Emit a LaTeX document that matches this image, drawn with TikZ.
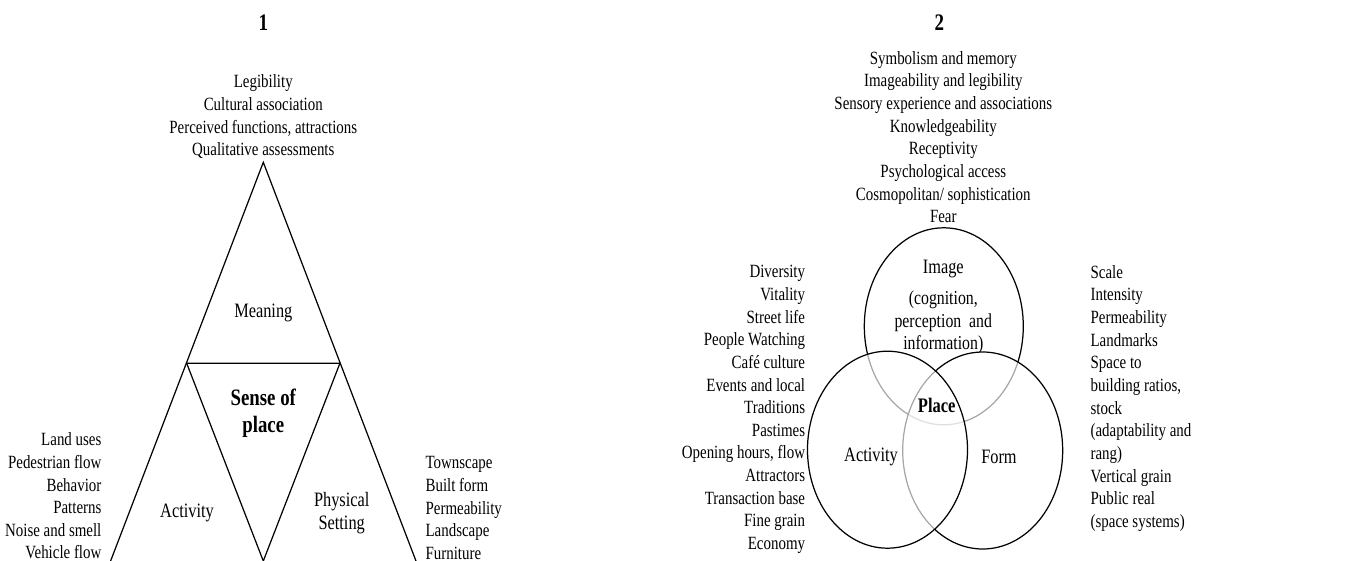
\documentclass[tikz,border=0pt]{standalone}
\usepackage{fontspec}
\setmainfont{Liberation Serif}
\usetikzlibrary{shapes}

\begin{document}
\begin{tikzpicture}[x=0.02cm, y=-0.02cm, line width=0.7pt,
		lst/.style={font=\fontsize{8.5}{10.32}\selectfont, inner sep=0pt, yscale=1.25},
		lbl/.style={font=\fontsize{9.3}{10.5}\selectfont, inner sep=0pt, align=center, yscale=1.25},
		ttl/.style={font=\fontsize{10.8}{12}\selectfont\bfseries, inner sep=0pt, yscale=1.25},
		veil/.style={fill=white, fill opacity=0.65}]
			\useasboundingbox (0,0) rectangle (1357,561);
			% Triangle
			\coordinate (apex) at (263.3,162.3);
			\coordinate (midleft) at (186.7,363.3);
			\coordinate (midright) at (339.9,363.3);
			\coordinate (botleft) at (110.6,561);
			\coordinate (botright) at (416,561);
			\coordinate (botmid) at (263.3,561);
			\draw (botleft) -- (apex) -- (botright);
			\draw (midleft) -- (midright) -- (botmid) -- cycle;
			\node[ttl] (one) at (263.3,23) {1};
			\node[lst, align=center] (meanlist) at (263.3,117) {Legibility\\Cultural association\\Perceived functions, attractions\\Qualitative assessments};
			\node[lbl] (meaning) at (263.3,313) {Meaning};
			\node[ttl, font=\fontsize{10.7}{12.3}\selectfont\bfseries, align=center] (sense) at (263.3,413.5) {Sense of\\place};
			\node[lbl] (act1) at (187,513) {Activity};
			\node[lbl] (phys) at (341.7,513.5) {Physical\\Setting};
			\node[lst, align=right, anchor=east] (actlist) at (102,496) {Land uses\\Pedestrian flow\\Behavior\\Patterns\\Noise and smell\\Vehicle flow};
			\node[lst, align=left, anchor=west] (physlist) at (425,508) {Townscape\\Built form\\Permeability\\Landscape\\Furniture};
			% Venn part
			\coordinate (cimage) at (943.8,326.3);
			\coordinate (cform) at (982.7,450.5);
			\coordinate (cact) at (887.5,449.7);
			\draw (cimage) ellipse [x radius=79.5, y radius=98.5];
			\draw[veil] (cform) ellipse [x radius=80, y radius=98.5];
			\draw[veil] (cact) ellipse [x radius=80, y radius=98.5];
			\node[ttl] (two) at (939.3,23) {2};
			\node[lst, align=center] (imglist) at (943.3,137) {Symbolism and memory\\Imageability and legibility\\Sensory experience and associations\\Knowledgeability\\Receptivity\\Psychological access\\Cosmopolitan/ sophistication\\Fear};
			\node[lbl] (image) at (943.3,269) {Image};
			\node[lbl, font=\fontsize{9}{10.24}\selectfont] (imgtext) at (943.3,322.5) {(cognition,\\perception~ and\\information)};
			\node[ttl, font=\fontsize{9.4}{12}\selectfont\bfseries] (place) at (936.7,405) {Place};
			\node[lbl] (act2) at (871,457) {Activity};
			\node[lbl] (form) at (999,457) {Form};
			\node[lst, align=right, anchor=east] (actlist2) at (805.7,409.5) {Diversity\\Vitality\\Street life\\People Watching\\Café culture\\Events and local\\Traditions\\Pastimes\\Opening hours, flow\\Attractors\\Transaction base\\Fine grain\\Economy};
			\node[lst, align=left, anchor=west] (formlist) at (1090,398.3) {Scale\\Intensity\\Permeability\\Landmarks\\Space to\\building ratios,\\stock\\(adaptability and\\rang)\\Vertical grain\\Public real\\(space systems)};
\end{tikzpicture}
\end{document}
